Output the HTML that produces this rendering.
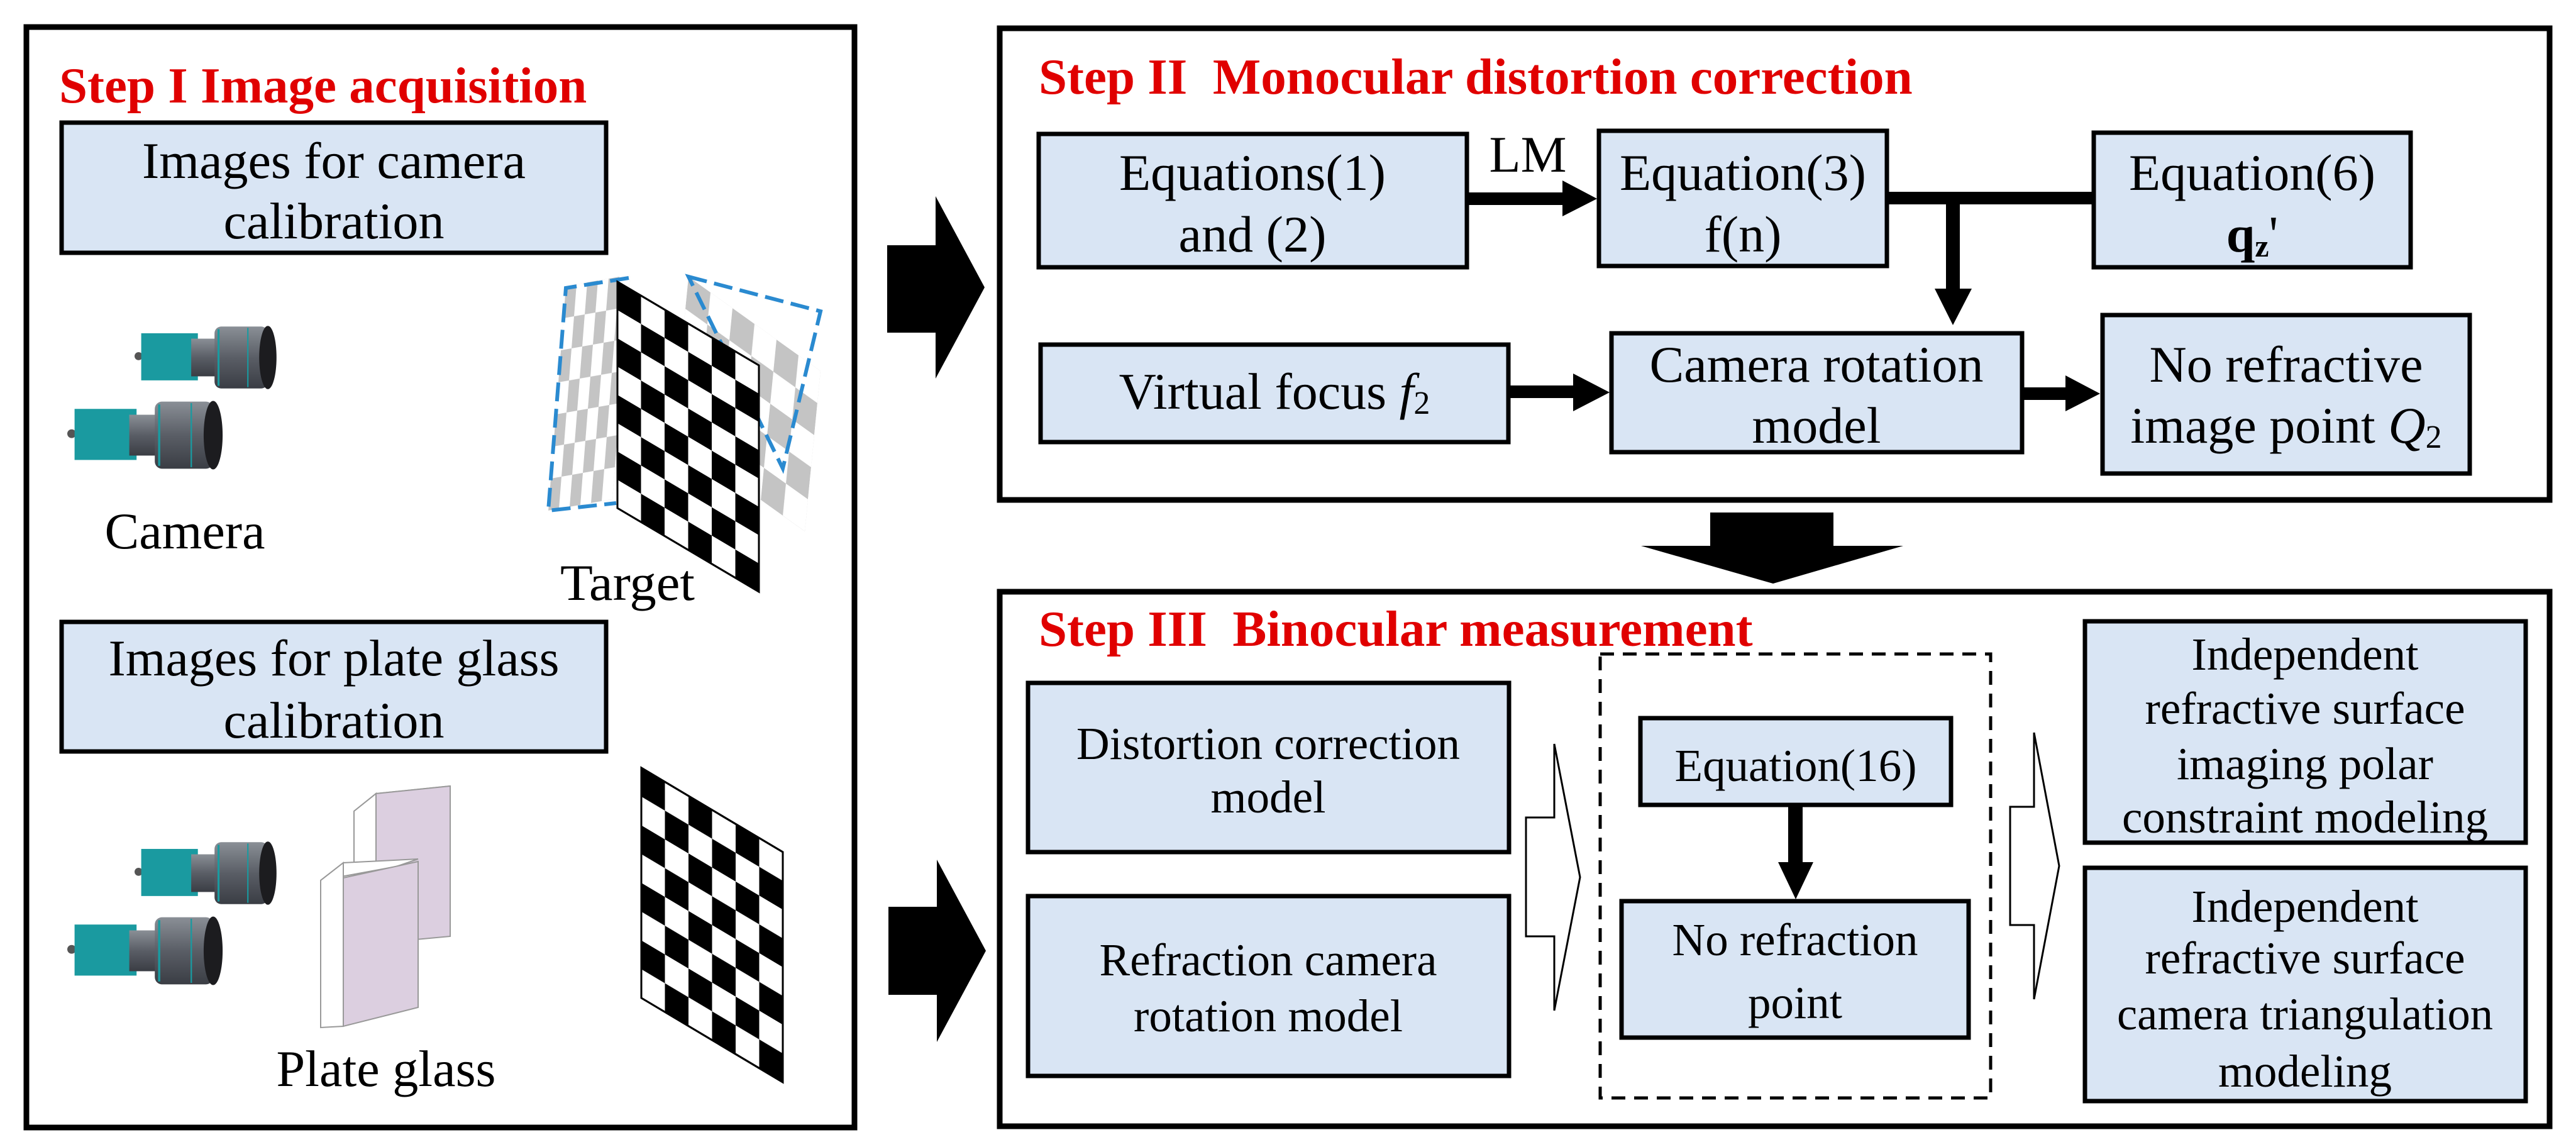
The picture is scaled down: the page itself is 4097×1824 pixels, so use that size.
<!DOCTYPE html>
<html><head><meta charset="utf-8"><style>
html,body{margin:0;padding:0;background:#fff;}
svg{display:block}
.t{font-size:81px;font-weight:bold;fill:#e00000;font-family:"Liberation Serif","Times New Roman","DejaVu Serif",serif}
.g82{font-family:"Liberation Serif","Times New Roman","DejaVu Serif",serif;font-size:82px}
.g73{font-family:"Liberation Serif","Times New Roman","DejaVu Serif",serif;font-size:73px}
</style></head><body>
<svg width="4097" height="1824" viewBox="0 0 4097 1824" xmlns="http://www.w3.org/2000/svg">
<defs>
<linearGradient id="lens" x1="0" y1="0" x2="0" y2="1">
<stop offset="0" stop-color="#8a8f96"/><stop offset="0.5" stop-color="#5a5e66"/><stop offset="1" stop-color="#3a3d44"/>
</linearGradient>
<g id="cam">
<circle cx="6" cy="48" r="6" fill="#555"/>
<rect x="10" y="14" width="85" height="70" fill="#1a9aa0"/>
<rect x="85" y="22" width="40" height="56" fill="url(#lens)"/>
<rect x="120" y="4" width="80" height="92" rx="10" fill="url(#lens)"/>
<line x1="126" y1="8" x2="126" y2="92" stroke="#1a9aa0" stroke-width="3"/>
<line x1="170" y1="6" x2="170" y2="94" stroke="#1a9aa0" stroke-width="2"/>
<ellipse cx="200" cy="50" rx="13" ry="47" fill="#1c1c1f"/>
</g>
<pattern id="chk" width="2" height="2" patternUnits="userSpaceOnUse">
<rect width="2" height="2" fill="#fff"/><rect width="1" height="1" fill="#000"/><rect x="1" y="1" width="1" height="1" fill="#000"/>
</pattern>
<pattern id="chkg" width="2" height="2" patternUnits="userSpaceOnUse">
<rect width="2" height="2" fill="#fff"/><rect width="1" height="1" fill="#aaa"/><rect x="1" y="1" width="1" height="1" fill="#aaa"/>
</pattern>
</defs>

<rect x="42" y="43" width="1317" height="1750" fill="none" stroke="#000" stroke-width="9"/>
<rect x="1590" y="45" width="2465" height="750" fill="none" stroke="#000" stroke-width="9"/>
<rect x="1590" y="941" width="2465" height="850" fill="none" stroke="#000" stroke-width="9"/>

<text class="t" x="94" y="163">Step I Image acquisition</text>
<text class="t" x="1652" y="149" xml:space="preserve">Step II  Monocular distortion correction</text>
<text class="t" x="1652" y="1027" xml:space="preserve">Step III  Binocular measurement</text>

<rect x="98" y="195" width="866" height="207" fill="#d9e5f4" stroke="#000" stroke-width="7"/>
<rect x="98" y="989" width="866" height="206" fill="#d9e5f4" stroke="#000" stroke-width="7"/>

<use href="#cam" transform="translate(214,515) scale(1.06,1.07)"/>
<use href="#cam" transform="translate(107,634) scale(1.16,1.16)"/>
<use href="#cam" transform="translate(214,1335) scale(1.06,1.07)"/>
<use href="#cam" transform="translate(107,1454) scale(1.16,1.16)"/>

<g transform="matrix(35,25,-5,51,1095,440)" opacity="0.7"><rect width="6" height="5" fill="url(#chkg)"/></g>
<polygon points="1095,440 1305,495 1245,745" fill="none" stroke="#2a8ad0" stroke-width="6" stroke-dasharray="30,12"/>
<g transform="matrix(17,-3,-4,51,900,455)" opacity="0.7"><rect width="6" height="7" fill="url(#chkg)"/></g>
<polyline points="1000,442 900,458 872,812 980,800" fill="none" stroke="#2a8ad0" stroke-width="6" stroke-dasharray="30,12"/>
<g transform="matrix(37.5,22.17,0,45,982,448)"><rect width="6" height="8" fill="url(#chk)" stroke="#000" stroke-width="0.08"/></g>
<g transform="matrix(37.5,22.33,0,45.75,1020,1221)"><rect width="6" height="8" fill="url(#chk)" stroke="#000" stroke-width="0.08"/></g>

<polygon points="563,1290 598,1262 716,1250 681,1262" fill="#fff" stroke="#999" stroke-width="2"/>
<polygon points="563,1290 598,1262 598,1500 563,1520" fill="#fff" stroke="#999" stroke-width="2"/>
<polygon points="598,1262 716,1250 716,1489 598,1500" fill="#dccfe0" stroke="#999" stroke-width="2"/>
<polygon points="510,1400 546,1372 665,1366 630,1378" fill="#fff" stroke="#999" stroke-width="2"/>
<polygon points="510,1400 546,1372 546,1632 510,1634" fill="#fff" stroke="#999" stroke-width="2"/>
<polygon points="546,1396 665,1370 665,1602 546,1632" fill="#dccfe0" stroke="#999" stroke-width="2"/>

<polygon points="1411,390 1488,390 1488,312 1566,457 1488,602 1488,529 1411,529" fill="#000"/>
<polygon points="1413,1442 1490,1442 1490,1367 1568,1512 1490,1657 1490,1582 1413,1582" fill="#000"/>
<polygon points="2720,815 2916,815 2916,868 3027,868 2820,928 2610,868 2720,868" fill="#000"/>

<g fill="#d9e5f4" stroke="#000" stroke-width="7">
<rect x="1652" y="213" width="681" height="212"/>
<rect x="2543" y="208" width="458" height="215"/>
<rect x="3330" y="211" width="504" height="214"/>
<rect x="1655" y="548" width="744" height="155"/>
<rect x="2563" y="530" width="653" height="189"/>
<rect x="3344" y="501" width="584" height="252"/>
</g>

<rect x="2336" y="306" width="152" height="20" fill="#000"/>
<polygon points="2485,287 2540,316 2485,344" fill="#000"/>
<rect x="3004" y="305" width="326" height="20" fill="#000"/>
<rect x="3095" y="315" width="22" height="146" fill="#000"/>
<polygon points="3077,459 3136,459 3106,517" fill="#000"/>
<rect x="2402" y="613" width="102" height="20" fill="#000"/>
<polygon points="2502,594 2560,624 2502,654" fill="#000"/>
<rect x="3219" y="616" width="68" height="20" fill="#000"/>
<polygon points="3285,597 3340,626 3285,654" fill="#000"/>

<g fill="#d9e5f4" stroke="#000" stroke-width="7">
<rect x="1635" y="1086" width="765" height="269"/>
<rect x="1635" y="1425" width="765" height="286"/>
<rect x="2609" y="1142" width="494" height="138"/>
<rect x="2579" y="1433" width="552" height="217"/>
<rect x="3316" y="988" width="701" height="352"/>
<rect x="3316" y="1380" width="701" height="371"/>
</g>
<rect x="2545" y="1040" width="621" height="706" fill="none" stroke="#000" stroke-width="5" stroke-dasharray="22,14"/>
<polygon points="2427,1300 2472,1300 2472,1183 2513,1395 2472,1607 2472,1489 2427,1489" fill="#fff" stroke="#000" stroke-width="3"/>
<polygon points="3197,1283 3235,1283 3235,1165 3275,1377 3235,1589 3235,1471 3197,1471" fill="#fff" stroke="#000" stroke-width="3"/>
<rect x="2844" y="1283" width="23" height="90" fill="#000"/>
<polygon points="2828,1371 2884,1371 2856,1430" fill="#000"/>

<g class="g82" fill="#000" text-anchor="middle" lengthAdjust="spacingAndGlyphs">
<text x="531" y="283" textLength="610" lengthAdjust="spacingAndGlyphs">Images for camera</text>
<text x="531" y="379" textLength="351" lengthAdjust="spacingAndGlyphs">calibration</text>
<text x="531" y="1074" textLength="717" lengthAdjust="spacingAndGlyphs">Images for plate glass</text>
<text x="531" y="1173" textLength="351" lengthAdjust="spacingAndGlyphs">calibration</text>
<text x="294" y="872" textLength="255" lengthAdjust="spacingAndGlyphs">Camera</text>
<text x="998" y="954" textLength="214" lengthAdjust="spacingAndGlyphs">Target</text>
<text x="614" y="1727" textLength="349" lengthAdjust="spacingAndGlyphs">Plate glass</text>
<text x="1992" y="302" textLength="424" lengthAdjust="spacingAndGlyphs">Equations(1)</text>
<text x="1992" y="400" textLength="235" lengthAdjust="spacingAndGlyphs">and (2)</text>
<text x="2772" y="302" textLength="392" lengthAdjust="spacingAndGlyphs">Equation(3)</text>
<text x="2772" y="400" textLength="123" lengthAdjust="spacingAndGlyphs">f(n)</text>
<text x="3582" y="302" textLength="392" lengthAdjust="spacingAndGlyphs">Equation(6)</text>
<text x="3582" y="400"><tspan font-weight="bold">q</tspan><tspan font-weight="bold" font-size="50" dy="8">z</tspan><tspan dy="-8">'</tspan></text>
<text x="2430" y="273" textLength="123" lengthAdjust="spacingAndGlyphs">LM</text>
<text x="2027" y="650">Virtual focus <tspan font-style="italic">f</tspan><tspan font-size="52" dy="8">2</tspan></text>
<text x="2889" y="607" textLength="531" lengthAdjust="spacingAndGlyphs">Camera rotation</text>
<text x="2889" y="704" textLength="205" lengthAdjust="spacingAndGlyphs">model</text>
<text x="3636" y="607" textLength="435" lengthAdjust="spacingAndGlyphs">No refractive</text>
<text x="3636" y="704">image point <tspan font-style="italic">Q</tspan><tspan font-size="52" dy="8">2</tspan></text>
</g>
<g class="g73" fill="#000" text-anchor="middle">
<text x="2017" y="1207" textLength="610" lengthAdjust="spacingAndGlyphs">Distortion correction</text>
<text x="2017" y="1292" textLength="183" lengthAdjust="spacingAndGlyphs">model</text>
<text x="2017" y="1551" textLength="537" lengthAdjust="spacingAndGlyphs">Refraction camera</text>
<text x="2017" y="1640" textLength="428" lengthAdjust="spacingAndGlyphs">rotation model</text>
<text x="2856" y="1242" textLength="385" lengthAdjust="spacingAndGlyphs">Equation(16)</text>
<text x="2855" y="1519" textLength="391" lengthAdjust="spacingAndGlyphs">No refraction</text>
<text x="2855" y="1619" textLength="150" lengthAdjust="spacingAndGlyphs">point</text>
<text x="3666" y="1065" textLength="361" lengthAdjust="spacingAndGlyphs">Independent</text>
<text x="3666" y="1151" textLength="509" lengthAdjust="spacingAndGlyphs">refractive surface</text>
<text x="3666" y="1239" textLength="408" lengthAdjust="spacingAndGlyphs">imaging polar</text>
<text x="3666" y="1324" textLength="582" lengthAdjust="spacingAndGlyphs">constraint modeling</text>
<text x="3666" y="1466" textLength="361" lengthAdjust="spacingAndGlyphs">Independent</text>
<text x="3666" y="1548" textLength="509" lengthAdjust="spacingAndGlyphs">refractive surface</text>
<text x="3666" y="1637" textLength="598" lengthAdjust="spacingAndGlyphs">camera triangulation</text>
<text x="3666" y="1728" textLength="276" lengthAdjust="spacingAndGlyphs">modeling</text>
</g>
</svg>
</body></html>
